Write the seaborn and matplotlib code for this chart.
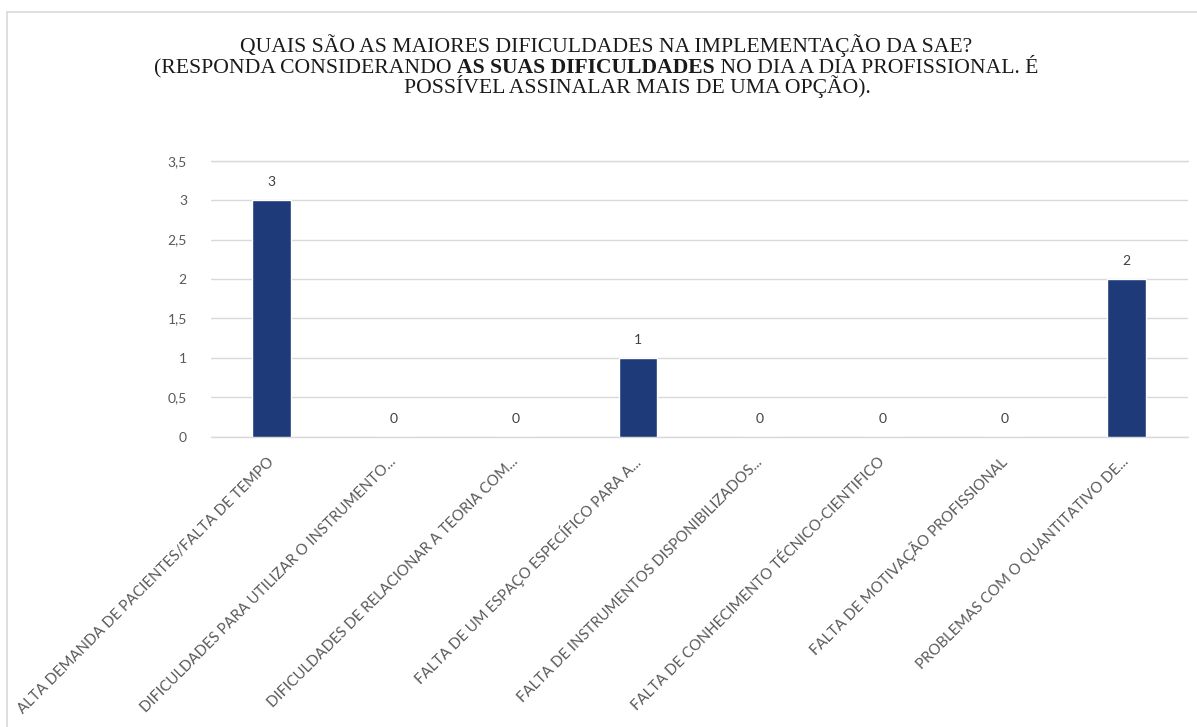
import matplotlib
matplotlib.use("Agg")
import matplotlib.pyplot as plt
import matplotlib.transforms as mtransforms
from matplotlib.lines import Line2D
import seaborn as sns
import pandas as pd

# ---- data ----
categories = [
    "ALTA DEMANDA DE PACIENTES/FALTA DE TEMPO",
    "DIFICULDADES PARA UTILIZAR O INSTRUMENTO...",
    "DIFICULDADES DE RELACIONAR A TEORIA COM...",
    "FALTA DE UM ESPAÇO ESPECÍFICO PARA A...",
    "FALTA DE INSTRUMENTOS DISPONIBILIZADOS...",
    "FALTA DE CONHECIMENTO TÉCNICO-CIENTIFICO",
    "FALTA DE MOTIVAÇÃO PROFISSIONAL",
    "PROBLEMAS COM O QUANTITATIVO DE...",
]
values = [3, 0, 0, 1, 0, 0, 0, 2]
yticks = [0, 0.5, 1, 1.5, 2, 2.5, 3, 3.5]
ytick_labels = ["0", "0,5", "1", "1,5", "2", "2,5", "3", "3,5"]

title_line1 = "QUAIS SÃO AS MAIORES DIFICULDADES NA IMPLEMENTAÇÃO DA SAE?"
title_line2_parts = ["(RESPONDA CONSIDERANDO ", "AS SUAS DIFICULDADES", " NO DIA A DIA PROFISSIONAL. É"]
title_line3 = "POSSÍVEL ASSINALAR MAIS DE UMA OPÇÃO)."

# ---- style ----
sns.set_theme(style="white")
W, H, DPI = 1197, 727, 100
BAR_COLOR = "#1f3a78"
GRID = "#d9d9d9"
TICK_COLOR = "#595959"
LABEL_FONT = "Lato"
TITLE_FONT = "Liberation Serif"

fig = plt.figure(figsize=(W / DPI, H / DPI), dpi=DPI)
fig.patch.set_facecolor("white")
ax = fig.add_axes([210.5 / W, 1 - 436.7 / H, (1187.5 - 210.5) / W, (436.7 - 160.7) / H])

df = pd.DataFrame({"cat": categories, "val": values})
sns.barplot(data=df, x="cat", y="val", color=BAR_COLOR, width=0.315,
            saturation=1, ax=ax, zorder=3)

ax.set_ylim(0, 3.5)
ax.set_xlim(-0.5, len(categories) - 0.5)
ax.set_yticks(yticks)
ax.set_yticklabels(ytick_labels, fontfamily=LABEL_FONT, fontsize=10, color=TICK_COLOR)
ax.tick_params(axis="y", length=0, pad=17)
ax.tick_params(axis="x", length=0, pad=0)
ax.yaxis.grid(True, color=GRID, linewidth=1.0, zorder=0)
ax.xaxis.grid(False)
ax.axhline(0, color=GRID, linewidth=1.0, zorder=1, clip_on=False)
ax.axhline(3.5, color=GRID, linewidth=1.0, zorder=1, clip_on=False)
for s in ax.spines.values():
    s.set_visible(False)
ax.set_xlabel("")
ax.set_ylabel("")

# x labels: rotated 45 degrees, right end anchored just below each tick
ax.set_xticks(range(len(categories)))
ax.set_xticklabels([])
offset = mtransforms.ScaledTranslation(0 / DPI, -23 / DPI, fig.dpi_scale_trans)
for i, cat in enumerate(categories):
    ax.text(i, 0, cat, transform=ax.get_xaxis_transform() + offset,
            rotation=45, rotation_mode="anchor", ha="right", va="center",
            fontfamily=LABEL_FONT, fontsize=10.7, color=TICK_COLOR)

# data labels
for i, v in enumerate(values):
    ax.annotate(f"{v}", (i, v), xytext=(0, 13), textcoords="offset points",
                ha="center", va="center", fontfamily=LABEL_FONT, fontsize=10,
                color="#404040")

# figure border (left and top only visible)
fig.add_artist(Line2D([7 / W, 7 / W], [0, 1 - 12 / H], transform=fig.transFigure,
                      color="#d9d9d9", linewidth=1.2))
fig.add_artist(Line2D([7 / W, 1], [1 - 12 / H, 1 - 12 / H], transform=fig.transFigure,
                      color="#d9d9d9", linewidth=1.2))

# title
TS = 15.6
t1 = fig.text(606 / W, 1 - 52 / H, title_line1, ha="center", va="baseline",
              fontfamily=TITLE_FONT, fontsize=TS, color="#1a1a1a")
t3 = fig.text(637 / W, 1 - 93 / H, title_line3, ha="center", va="baseline",
              fontfamily=TITLE_FONT, fontsize=TS, color="#1a1a1a")
parts = []
for k, p in enumerate(title_line2_parts):
    parts.append(fig.text(0, 1 - 73 / H, p, ha="left", va="baseline",
                          fontfamily=TITLE_FONT, fontsize=TS, color="#1a1a1a",
                          fontweight="bold" if k == 1 else "normal"))
fig.canvas.draw()
r = fig.canvas.get_renderer()
widths = [p.get_window_extent(r).width for p in parts]
x0 = 596 - sum(widths) / 2
for p, w in zip(parts, widths):
    p.set_x(x0 / W)
    x0 += w

fig.savefig("out.png", dpi=DPI, facecolor="white")
